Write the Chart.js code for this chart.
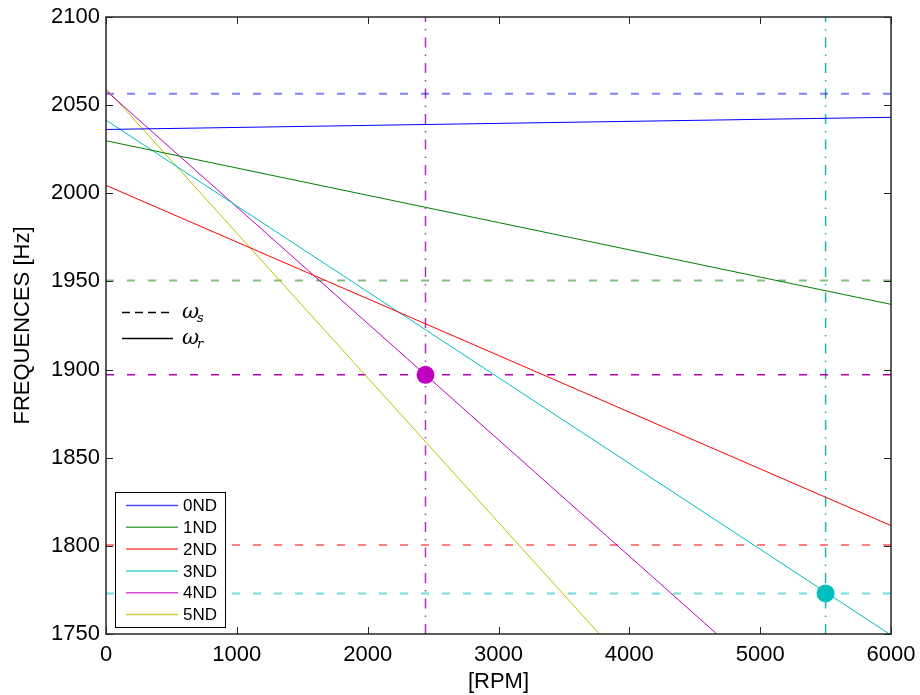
<!DOCTYPE html>
<html>
<head>
<meta charset="utf-8">
<script src="https://cdn.jsdelivr.net/npm/chart.js@4.4.1/dist/chart.umd.min.js"></script>
<style>
  html, body { margin: 0; padding: 0; background: #fff; }
  #wrap { width: 920px; height: 695px; }
</style>
</head>
<body>
<div id="wrap"><canvas id="myChart" width="920" height="695"></canvas></div>
<script>
// nodal diameters, rotating frame frequency vs speed
const ndLabels = ['0ND', '1ND', '2ND', '3ND', '4ND', '5ND'];
const ndColors = ['#0000ff', '#008000', '#ff0000', '#00bfbf', '#bf00bf', '#bfbf00'];
const ndRpm = [[0, 6000], [0, 6000], [0, 6000], [0, 5988], [0, 4669], [0, 3771]];
const ndHz = [[2036.2, 2043.1], [2029.8, 1937.0], [2004.5, 1811.5], [2041.5, 1750], [2058.2, 1750], [2059.5, 1750]];

// static frequencies (dashed)
const staticHz = [2056.5, 1950.5, 1897, 1800.5, 1773];
const staticColors = ['rgba(0,0,255,0.5)', 'rgba(0,128,0,0.5)', '#b000b0', 'rgba(255,0,0,0.5)', 'rgba(0,191,191,0.55)'];
const staticWidths = [2, 2, 1.5, 2, 2];

// resonance speeds (dash-dot) and crossing points
const critRpm = [2442, 5500];
const critHz = [1897, 1773];
const critColors = ['#b030c0', '#20b4b4'];
const markerColors = ['#c000c0', '#00c0c0'];

const xTicks = [0, 1000, 2000, 3000, 4000, 5000, 6000];
const yTicks = [1750, 1800, 1850, 1900, 1950, 2000, 2050, 2100];

const datasets = [];

critRpm.forEach((r, i) => {
    datasets.push({
        data: [{ x: r, y: critHz[i] }],
        showLine: false,
        pointRadius: 9,
        pointBackgroundColor: markerColors[i],
        pointBorderColor: markerColors[i],
        pointBorderWidth: 0
    });
});

ndLabels.forEach((name, i) => {
    datasets.push({
        label: name,
        data: ndRpm[i].map((r, j) => ({ x: r, y: ndHz[i][j] })),
        borderColor: ndColors[i],
        borderWidth: 1,
        pointRadius: 0
    });
});

staticHz.forEach((hz, i) => {
    datasets.push({
        data: [{ x: 0, y: hz }, { x: 6000, y: hz }],
        borderColor: staticColors[i],
        borderWidth: staticWidths[i],
        borderDash: [8, 13],
        pointRadius: 0
    });
});

critRpm.forEach((r, i) => {
    datasets.push({
        data: [{ x: r, y: 1750 }, { x: r, y: 2100 }],
        borderColor: critColors[i],
        borderWidth: 1.5,
        borderDash: [10, 7, 1.5, 7],
        pointRadius: 0
    });
});

// box + inward ticks, matlab style
const framePlugin = {
    id: 'frame',
    afterDraw(chart) {
        const c = chart.ctx;
        const a = chart.chartArea;
        const x = chart.scales.x;
        const y = chart.scales.y;
        c.save();
        c.strokeStyle = '#262626';
        c.lineWidth = 1;
        c.beginPath();
        xTicks.forEach(v => {
            const px = Math.round(x.getPixelForValue(v)) + 0.5;
            c.moveTo(px, a.bottom); c.lineTo(px, a.bottom - 7);
            c.moveTo(px, a.top); c.lineTo(px, a.top + 7);
        });
        yTicks.forEach(v => {
            const py = Math.round(y.getPixelForValue(v)) + 0.5;
            c.moveTo(a.left, py); c.lineTo(a.left + 7, py);
            c.moveTo(a.right, py); c.lineTo(a.right - 7, py);
        });
        c.stroke();
        c.lineWidth = 1.5;
        c.strokeRect(Math.round(a.left), Math.round(a.top), Math.round(a.right - a.left), Math.round(a.bottom - a.top));
        c.restore();
    }
};

// the two legends inside the axes
const legendPlugin = {
    id: 'insideLegends',
    afterDraw(chart) {
        const c = chart.ctx;
        c.save();
        // omega legend
        c.strokeStyle = '#000';
        c.lineWidth = 1.5;
        c.setLineDash([8, 5]);
        c.beginPath(); c.moveTo(122, 312.5); c.lineTo(173, 312.5); c.stroke();
        c.setLineDash([]);
        c.beginPath(); c.moveTo(122, 338.5); c.lineTo(173, 338.5); c.stroke();
        c.fillStyle = '#000';
        c.textBaseline = 'alphabetic';
        c.font = 'italic 21px "DejaVu Serif", serif';
        c.fillText('ω', 182, 318);
        c.fillText('ω', 182, 344);
        c.font = 'italic 13px "DejaVu Serif", serif';
        c.fillText('s', 197, 322);
        c.fillText('r', 197, 348);

        // ND legend box
        c.fillStyle = '#fff';
        c.fillRect(115, 492, 110, 135);
        c.strokeStyle = '#000';
        c.lineWidth = 1;
        c.strokeRect(115.5, 492.5, 110, 135);
        c.font = '17px "Liberation Sans", Arial, sans-serif';
        c.textBaseline = 'middle';
        ndLabels.forEach((name, i) => {
            const yy = 505.5 + i * 21.8;
            c.strokeStyle = ndColors[i];
            c.lineWidth = 1.5;
            c.globalAlpha = 0.7;
            c.beginPath(); c.moveTo(126, yy); c.lineTo(178, yy); c.stroke();
            c.globalAlpha = 1;
            c.fillStyle = '#000';
            c.fillText(name, 183, yy + 1);
        });
        c.restore();
    }
};

new Chart(document.getElementById('myChart'), {
    type: 'line',
    data: { datasets: datasets },
    options: {
        responsive: false,
        animation: false,
        layout: { padding: { top: 17, right: 29, left: 0, bottom: 0 } },
        scales: {
            x: {
                type: 'linear',
                min: 0,
                max: 6000,
                afterFit: s => { s.height = 61; s.paddingLeft = 0; s.paddingRight = 0; },
                afterBuildTicks: s => { s.ticks = xTicks.map(v => ({ value: v })); },
                grid: { display: false, drawTicks: false },
                border: { display: false },
                ticks: {
                    color: '#000',
                    padding: 8,
                    maxRotation: 0,
                    callback: v => String(v),
                    font: { family: '"Liberation Sans", Arial, sans-serif', size: 22 }
                },
                title: {
                    display: true,
                    text: '[RPM]',
                    color: '#000',
                    padding: 0,
                    font: { family: '"Liberation Sans", Arial, sans-serif', size: 22 }
                }
            },
            y: {
                type: 'linear',
                min: 1750,
                max: 2100,
                afterFit: s => { s.width = 106; s.paddingTop = 0; s.paddingBottom = 0; },
                afterBuildTicks: s => { s.ticks = yTicks.map(v => ({ value: v })); },
                grid: { display: false, drawTicks: false },
                border: { display: false },
                ticks: {
                    color: '#000',
                    padding: 6,
                    callback: v => String(v),
                    font: { family: '"Liberation Sans", Arial, sans-serif', size: 22 }
                },
                title: {
                    display: true,
                    text: 'FREQUENCES [Hz]',
                    color: '#000',
                    padding: { top: 10, bottom: 0 },
                    font: { family: '"Liberation Sans", Arial, sans-serif', size: 22 }
                }
            }
        },
        plugins: {
            legend: { display: false },
            tooltip: { enabled: false }
        }
    },
    plugins: [framePlugin, legendPlugin]
});
</script>
</body>
</html>
